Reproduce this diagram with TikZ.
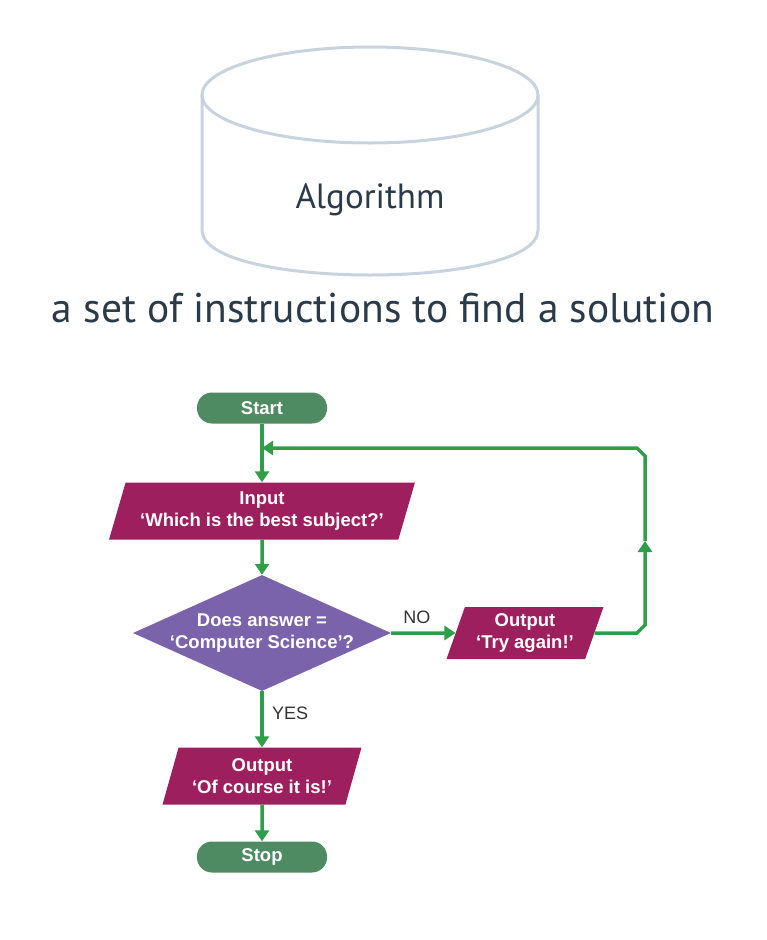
\documentclass[tikz,border=0pt]{standalone}
\usepackage{fontspec}
\setmainfont{Liberation Sans}
\newfontfamily\headfont{PT Sans}
\usetikzlibrary{shapes.geometric,arrows.meta,positioning}
\definecolor{termgreen}{HTML}{4E8B63}
\definecolor{flowgreen}{HTML}{2E9E48}
\definecolor{iomagenta}{HTML}{9E1F5E}
\definecolor{askpurple}{HTML}{7B63AB}
\definecolor{cylgrey}{HTML}{C8D3DD}
\definecolor{inkdark}{HTML}{2B3A48}
\begin{document}
\begin{tikzpicture}[x=1pt,y=-1pt,>={Triangle[width=14pt,length=11pt]},
    font=\fontsize{18.5}{22}\selectfont\bfseries,
    terminal/.style={rectangle,rounded corners=15pt,fill=termgreen,text=white,minimum width=130pt,minimum height=31pt,inner sep=0pt},
    inout/.style={trapezium,trapezium left angle=69,trapezium right angle=111,trapezium stretches=true,fill=iomagenta,text=white,align=center,inner sep=0pt},
    decision/.style={diamond,aspect=2.2,fill=askpurple,text=white,align=center,inner xsep=-10pt,inner ysep=-5pt,minimum width=258pt,minimum height=116pt},
    flow/.style={draw=flowgreen,line width=3.5pt},
    lbl/.style={font=\fontsize{18}{21}\selectfont,text=black!80}]
    \useasboundingbox (0,0) rectangle (766,940);
    % the cylinder and heading
    \begin{scope}[cylgrey,line width=3pt]
        \draw (370,95) ellipse [x radius=168pt,y radius=48pt];
        \draw (202,95) -- (202,230) .. controls (202,290) and (538,290) .. (538,230) -- (538,95);
    \end{scope}
    \node[font=\headfont\fontsize{35}{40}\selectfont,text=inkdark] (algo) at (370,200) {Algorithm};
    \node[font=\headfont\fontsize{41.5}{48}\selectfont,text=inkdark] (defn) at (383,308) {a set of instructions to find a solution};
    % the flowchart
    \node[terminal] (start) at (262,408) {Start};
    \node[inout,minimum width=307pt,minimum height=57pt] (input) at (262,511) {Input\\‘Which is the best subject?’};
    \node[decision] (check) at (262,633) {Does answer =\\‘Computer Science’?};
    \node[inout,minimum width=157pt,minimum height=52pt] (retry) at (525,633) {Output\\‘Try again!’};
    \node[inout,minimum width=199pt,minimum height=57pt] (answer) at (262,776) {Output\\‘Of course it is!’};
    \node[terminal] (stop) at (262,857) {Stop};
    \coordinate (loopin) at (262,448);
    \coordinate (upmark) at (645,541);
    \draw[flow,->] (start) -- (input);
    \draw[flow,->] (input) -- (check);
    \draw[flow,->] (check) -- node[lbl,above=4pt,pos=.4]{NO} (retry);
    \draw[flow,->] (check) -- node[lbl,right=5pt,pos=.4]{YES} (answer);
    \draw[flow,->] (answer) -- (stop);
    \draw[flow,->] (retry.east) -- (637,633) -- (645,625) -- (upmark);
    \draw[flow,->] (upmark) -- (645,456) -- (637,448) -- (loopin);
\end{tikzpicture}
\end{document}
